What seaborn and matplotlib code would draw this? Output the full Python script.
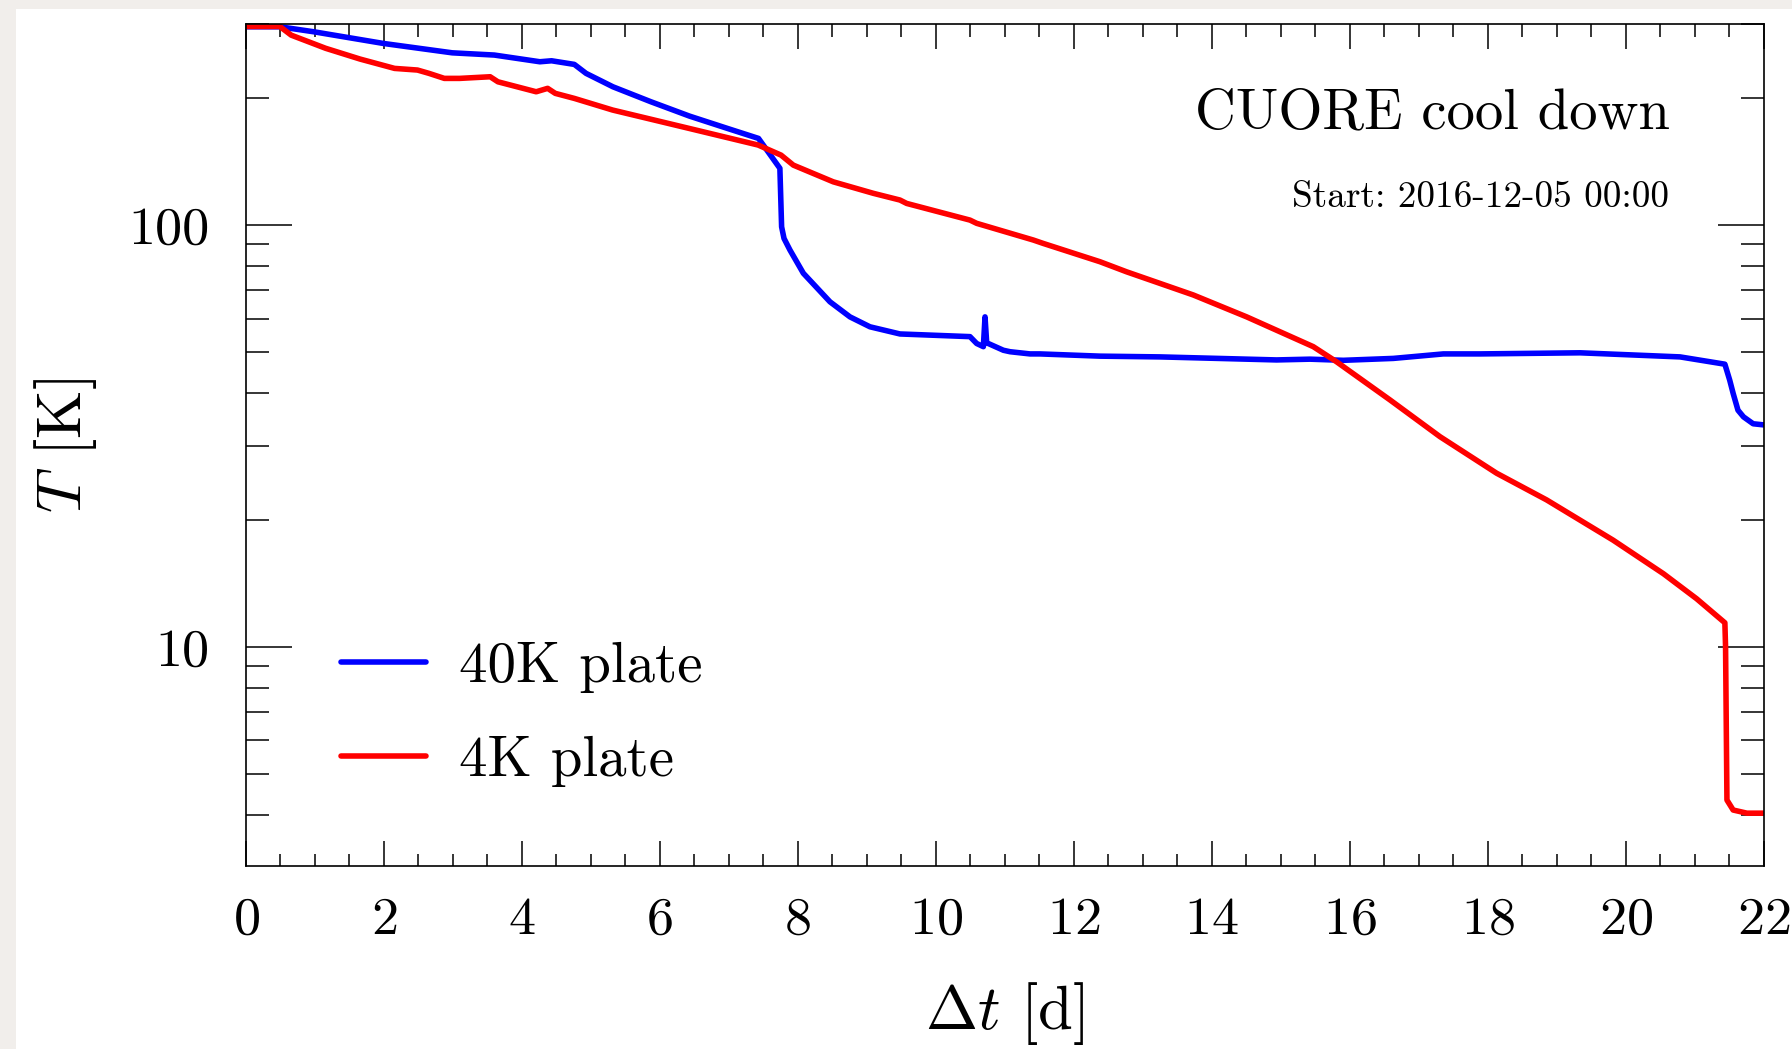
import numpy as np
import pandas as pd
import matplotlib
matplotlib.use("Agg")
import matplotlib.pyplot as plt
from matplotlib.patches import Rectangle
from matplotlib.ticker import MultipleLocator, LogLocator, FuncFormatter, NullFormatter
import seaborn as sns

# 40K plate temperature vs days since start
days_40k = [0, 0.49, 0.99, 1.99, 2.99, 3.60, 4.26, 4.43, 4.76, 4.93, 5.32, 5.87,
            6.43, 6.98, 7.43, 7.74, 7.765, 7.80, 7.886, 8.08, 8.466, 8.756, 9.046,
            9.481, 10.496, 10.593, 10.69, 10.714, 10.738, 10.98, 11.076, 11.366,
            11.51, 12.38, 13.25, 14.94, 15.425, 15.908, 16.633, 17.358, 17.89,
            19.34, 20.79, 21.44, 21.51, 21.56, 21.63, 21.71, 21.85, 22.0]
temp_40k = [295.5, 295.5, 287.4, 269.8, 256.3, 253.2, 244.1, 245.4, 240.6, 229.1,
            212.9, 196.2, 181.4, 169.6, 160.6, 136.4, 99.1, 93.0, 87.3, 76.9,
            65.8, 60.6, 57.4, 55.2, 54.4, 52.4, 51.5, 60.6, 52.6, 50.5, 50.1,
            49.5, 49.5, 48.9, 48.7, 47.9, 48.1, 47.8, 48.3, 49.5, 49.5, 49.8,
            48.7, 46.8, 42.9, 39.9, 36.4, 35.1, 33.8, 33.6]

# 4K plate temperature vs days since start
days_4k = [0, 0.49, 0.655, 1.155, 1.654, 2.154, 2.486, 2.653, 2.875, 3.097, 3.54,
           3.652, 4.207, 4.373, 4.484, 4.761, 5.316, 6.425, 7.424, 7.757, 7.935,
           8.514, 9.094, 9.481, 9.578, 10.496, 10.593, 11.414, 11.558, 12.38,
           12.767, 13.733, 14.507, 15.473, 15.812, 16.585, 17.31, 18.131, 18.856,
           19.82, 20.55, 21.03, 21.44, 21.45, 21.47, 21.56, 21.76, 22.0]
temp_4k = [296, 296, 282.3, 262.7, 247.7, 235.4, 233.3, 229.1, 222.9, 222.9, 224.9,
           218.8, 207.2, 211.1, 205.4, 199.8, 187.5, 169.6, 154.9, 146.6, 138.8,
           126.7, 119.0, 114.7, 112.6, 102.8, 101.0, 92.2, 90.5, 81.9, 77.5, 68.3,
           60.6, 51.5, 47.4, 38.5, 31.5, 25.8, 22.3, 17.9, 14.9, 13.0, 11.4, 10.0,
           4.33, 4.10, 4.03, 4.03]

labels = ["40K plate", "4K plate"]
colors = {"40K plate": "#0000ff", "4K plate": "#ff0000"}

df = pd.concat([
    pd.DataFrame({"days": days_40k, "T": temp_40k, "plate": labels[0]}),
    pd.DataFrame({"days": days_4k, "T": temp_4k, "plate": labels[1]}),
], ignore_index=True)

sns.set_style("ticks")
plt.rcParams["font.family"] = ["cmr10", "DejaVu Serif"]
plt.rcParams["mathtext.fontset"] = "cm"
plt.rcParams["axes.formatter.use_mathtext"] = True
plt.rcParams["text.color"] = "black"
plt.rcParams["axes.labelcolor"] = "black"

fig = plt.figure(figsize=(17.92, 10.49), dpi=100, facecolor="#f1eeeb")
fig.patches.append(Rectangle((16 / 1792, 0), 1, 1 - 9 / 1049, transform=fig.transFigure,
                             facecolor="white", edgecolor="none", zorder=-5))
ax = fig.add_axes([246 / 1792, 1 - 866 / 1049, 1517.5 / 1792, 842 / 1049])
ax.set_facecolor("white")

sns.lineplot(data=df, x="days", y="T", hue="plate", hue_order=labels, palette=colors,
             sort=False, estimator=None, linewidth=4.0, ax=ax)

ax.set_yscale("log")
ax.set_xlim(0, 22)
ax.set_ylim(3.02, 300)

ax.xaxis.set_major_locator(MultipleLocator(2))
ax.xaxis.set_minor_locator(MultipleLocator(0.5))
ax.yaxis.set_major_locator(LogLocator(base=10))
ax.yaxis.set_minor_locator(LogLocator(base=10, subs=np.arange(2, 10)))
ax.yaxis.set_major_formatter(FuncFormatter(lambda v, p: f"{v:g}"))
ax.yaxis.set_minor_formatter(NullFormatter())

ax.tick_params(which="both", direction="in", top=True, right=True, width=1.1,
               colors="black", labelsize=39)
ax.tick_params(axis="x", which="major", length=18, pad=22)
ax.tick_params(axis="x", which="minor", length=9)
ax.tick_params(axis="y", which="major", length=33, pad=26)
ax.tick_params(axis="y", which="minor", length=16.5)
for s in ax.spines.values():
    s.set_linewidth(1.2)
    s.set_color("black")

ax.set_xlabel(r"$\mathit{\Delta} t$ [d]", fontsize=45)
ax.set_ylabel(r"$T$ [K]", fontsize=45)
ax.xaxis.set_label_coords(0.5, -0.135)
ax.yaxis.set_label_coords(-0.097, 0.5)

ax.text(0.938, 0.876, "CUORE cool down", transform=ax.transAxes, ha="right",
        va="baseline", fontsize=40.8)
ax.text(0.938, 0.783, "Start: 2016-12-05 00:00", transform=ax.transAxes, ha="right",
        va="baseline", fontsize=26.8)

ax.legend(loc="lower left", bbox_to_anchor=(0.0626, 0.094), frameon=False,
          fontsize=41, handlelength=1.5, handletextpad=0.57, labelspacing=0.75,
          borderpad=0, borderaxespad=0)

fig.savefig("out.png", dpi=100, facecolor=fig.get_facecolor())
